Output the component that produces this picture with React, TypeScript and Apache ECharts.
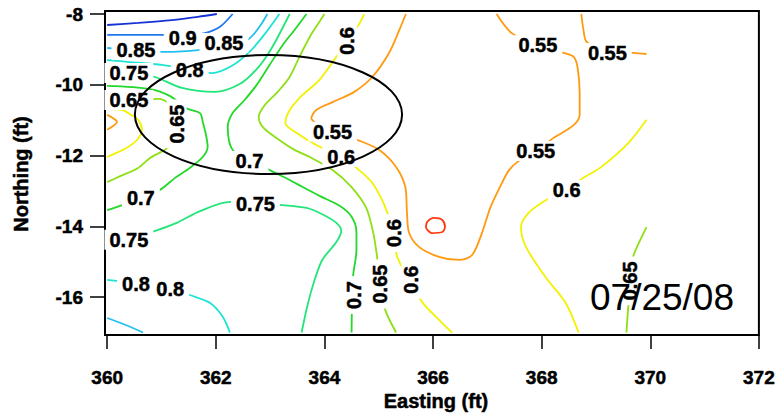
import React, { useEffect, useRef } from "react";
import * as echarts from "echarts";

type Pt = [number, number];

const FONT = "'Liberation Sans', Arial, Helvetica, sans-serif";

// Axis ticks
const xTicks = [360, 362, 364, 366, 368, 370, 372];
const yTicks = [-16, -14, -12, -10, -8];

// Contour levels and their colours
const levels = ["0.95", "0.9", "0.85", "0.8", "0.75", "0.7", "0.65", "0.6", "0.55", "0.5"];
const levelColors = [
  "#1432d8", "#1f78f0", "#22c0f2", "#1ee4d4", "#22e67a",
  "#22d82a", "#8ee015", "#f2f200", "#ff9a10", "#ff3a10",
];

// Contour polylines (Easting, Northing)
const c095: Pt[][] = [
  [[360.0, -8.31], [360.57, -8.25], [361.19, -8.17], [361.67, -8.08], [362.02, -8.0]],
];
const c090: Pt[][] = [
  [[360.0, -8.59], [361.01, -8.59], [361.39, -8.62], [361.8, -8.54], [362.07, -8.37], [362.31, -8.0]],
];
const c085: Pt[][] = [
  [[360.0, -8.96], [360.53, -9.02], [361.01, -9.07], [361.67, -9.02], [362.15, -8.85], [362.55, -8.76], [362.7, -8.57], [362.84, -8.28], [362.95, -8.0]],
  [[360.0, -16.59], [360.33, -16.78], [360.66, -17.0]],
];
const c080: Pt[][] = [
  [[360.0, -9.3], [360.42, -9.36], [361.01, -9.44], [361.52, -9.58], [361.93, -9.67], [362.29, -9.47], [362.62, -9.07], [362.9, -8.57], [363.17, -8.0]],
  [[360.0, -15.51], [360.53, -15.6], [361.16, -15.74], [361.52, -15.94], [361.89, -16.16], [362.13, -16.56], [362.26, -17.0]],
];
const c075: Pt[][] = [
  [[360.0, -9.64], [360.4, -9.67], [360.88, -9.78], [361.38, -10.09], [361.98, -10.2], [362.44, -9.98], [362.77, -9.53], [363.03, -8.96], [363.36, -8.0]],
  [[360.0, -14.38], [360.4, -14.38], [360.88, -14.13], [361.28, -13.9], [361.71, -13.57], [362.26, -13.31], [362.73, -13.34], [363.23, -13.4], [363.67, -13.48], [363.95, -13.65], [364.22, -13.9], [364.31, -14.13], [364.22, -14.44], [363.96, -14.95], [363.82, -15.51], [363.69, -16.22], [363.58, -17.0]],
];
const c070: Pt[][] = [
  [[360.0, -10.03], [360.79, -10.12], [361.16, -10.32], [361.45, -10.66], [361.71, -10.8], [361.76, -11.05], [361.82, -11.42], [361.85, -11.76], [361.76, -12.04], [361.52, -12.35], [361.25, -12.63], [360.97, -12.97], [360.62, -13.2], [360.24, -13.42], [360.0, -13.54]],
  [[363.67, -8.0], [363.45, -8.45], [363.23, -8.88], [362.99, -9.44], [362.75, -10.01], [362.53, -10.43], [362.31, -10.8], [362.22, -11.19], [362.24, -11.56], [362.29, -11.79], [362.4, -11.98], [362.62, -12.15], [362.84, -12.29], [363.03, -12.44], [363.36, -12.69], [363.6, -12.89], [363.91, -13.14], [364.28, -13.42], [364.5, -13.73], [364.59, -14.16], [364.59, -14.67], [364.53, -15.37], [364.51, -16.08], [364.5, -17.0]],
];
const c065: Pt[][] = [
  [[360.0, -10.46], [360.61, -10.43], [360.94, -10.4], [361.16, -10.54], [361.28, -10.77], [361.3, -11.22], [361.25, -11.62], [361.06, -11.84], [360.79, -12.07], [360.57, -12.35], [360.24, -12.58], [360.0, -12.75]],
  [[364.0, -8.0], [363.87, -8.31], [363.73, -8.65], [363.54, -9.21], [363.36, -9.78], [363.14, -10.2], [362.9, -10.58], [362.79, -10.91], [362.88, -11.22], [363.17, -11.56], [363.45, -11.84], [363.73, -12.04], [364.15, -12.41], [364.5, -12.89], [364.77, -13.48], [364.9, -14.19], [364.97, -14.86], [365.03, -15.63], [365.12, -16.36], [365.32, -17.0]],
  [[369.93, -14.02], [369.73, -14.67], [369.65, -15.03], [369.63, -15.6], [369.6, -16.16], [369.56, -17.0]],
];
const c060: Pt[][] = [
  [[360.0, -10.69], [360.27, -10.71], [360.42, -10.83], [360.57, -10.99], [360.64, -11.28], [360.55, -11.56], [360.33, -11.81], [360.09, -11.98], [360.0, -12.04]],
  [[364.73, -8.0], [364.64, -8.28], [364.46, -8.68], [364.22, -9.21], [363.91, -9.86], [363.54, -10.37], [363.34, -10.77], [363.28, -11.08], [363.49, -11.36], [363.85, -11.7], [364.31, -12.04], [364.64, -12.41], [364.88, -12.77], [365.06, -13.25], [365.16, -13.62], [365.27, -14.19], [365.34, -14.86], [365.56, -15.51], [365.8, -16.14], [366.11, -16.64], [366.35, -17.0]],
  [[369.93, -10.99], [369.6, -11.64], [369.1, -12.32], [368.77, -12.63], [368.46, -12.97], [368.09, -13.25], [367.76, -13.62], [367.62, -14.02], [367.71, -14.58], [368.07, -15.43], [368.44, -16.16], [368.68, -17.0]],
];
const c055: Pt[][] = [
  [[360.0, -10.85], [360.18, -11.05], [360.0, -11.27]],
  [[365.5, -8.0], [365.38, -8.45], [365.19, -9.1], [364.88, -9.78], [364.55, -10.2], [364.15, -10.49], [363.85, -10.71], [363.76, -10.94], [364.15, -11.31], [364.61, -11.56], [365.01, -11.84], [365.32, -12.32], [365.49, -12.89], [365.52, -13.62], [365.56, -14.19], [365.74, -14.58], [366.11, -14.86], [366.48, -14.95], [366.72, -14.81], [366.9, -14.19], [367.06, -13.45], [367.27, -12.77], [367.4, -12.41], [367.58, -12.15], [367.89, -11.87], [368.22, -11.5], [368.59, -11.14], [368.7, -10.85], [368.7, -10.23], [368.66, -9.5], [368.59, -9.21], [368.4, -9.1], [367.93, -8.88], [367.45, -8.54], [367.17, -8.0]],
  [[368.73, -8.0], [368.77, -8.45], [368.83, -8.79], [369.21, -9.07], [369.69, -9.1], [369.93, -9.13]],
];
const c050: Pt[][] = [
  [[365.87, -14.05], [365.89, -13.88], [366.02, -13.76], [366.17, -13.82], [366.22, -14.02], [366.17, -14.16], [365.98, -14.19], [365.87, -14.05]],
];
const contourLines = [c095, c090, c085, c080, c075, c070, c065, c060, c055, c050];

// Contour labels: Easting, Northing, text, rotation (deg)
const contourLabels: [number, number, string, number][] = [
  [361.39, -8.68, "0.9", 0],
  [360.53, -9.02, "0.85", 0],
  [362.15, -8.82, "0.85", 0],
  [361.52, -9.58, "0.8", 0],
  [360.4, -9.67, "0.75", 0],
  [360.4, -10.43, "0.65", 0],
  [361.28, -11.11, "0.65", 90],
  [362.62, -12.15, "0.7", 0],
  [360.62, -13.2, "0.7", 0],
  [360.4, -14.38, "0.75", 0],
  [362.73, -13.37, "0.75", 0],
  [360.53, -15.63, "0.8", 0],
  [361.16, -15.77, "0.8", 0],
  [364.42, -8.76, "0.6", 90],
  [364.15, -11.33, "0.55", 0],
  [364.31, -12.04, "0.6", 0],
  [367.93, -8.88, "0.55", 0],
  [369.21, -9.1, "0.55", 0],
  [367.89, -11.87, "0.55", 0],
  [368.46, -12.97, "0.6", 0],
  [365.28, -14.19, "0.6", 90],
  [365.6, -15.51, "0.6", 90],
  [365.03, -15.63, "0.65", 90],
  [364.55, -15.94, "0.7", 90],
  [369.63, -15.54, "0.65", 90],
];

// Ellipse: centre Easting, centre Northing, radius E, radius N (ft)
const ellipseData = [[362.97, -10.84, 2.46, 1.68]];
const dateText = "07/25/08";
const xTitle = "Easting (ft)";
const yTitle = "Northing (ft)";

export default function App() {
  const ref = useRef<HTMLDivElement>(null);
  useEffect(() => {
    if (!ref.current) return;
    const chart = echarts.init(ref.current, null, { renderer: "svg" });
    const series: any[] = [];
    contourLines.forEach((lines, i) => {
      lines.forEach((pts) => {
        series.push({
          type: "line",
          name: levels[i],
          data: pts,
          symbol: "none",
          showSymbol: false,
          smooth: 0.3,
          silent: true,
          z: 2,
          lineStyle: { color: levelColors[i], width: 1.8 },
        });
      });
    });
    series.push({
      type: "scatter",
      silent: true,
      z: 5,
      symbolSize: 1,
      itemStyle: { color: "#fff", opacity: 1 },
      data: contourLabels.map((l) => ({
        value: [l[0], l[1]],
        name: l[2],
        label: { rotate: l[3] },
      })),
      label: {
        show: true,
        position: "inside",
        formatter: (p: any) => p.name,
        color: "#000",
        opacity: 1,
        fontSize: 20,
        fontWeight: "bold",
        fontFamily: FONT,
        textBorderColor: "#000",
        textBorderWidth: 0.5,
        backgroundColor: "#fff",
        padding: [0, 5],
      },
    });
    series.push({
      type: "custom",
      silent: true,
      z: 10,
      clip: false,
      data: ellipseData,
      renderItem: (_p: any, api: any) => {
        const c = api.coord([api.value(0), api.value(1)]);
        const s = api.size([api.value(2), api.value(3)]);
        return {
          type: "ellipse",
          shape: { cx: c[0], cy: c[1], rx: s[0], ry: s[1] },
          style: { fill: "none", stroke: "#000", lineWidth: 2 },
        };
      },
    });
    const axisLabelStyle = {
      color: "#000", fontSize: 19, fontWeight: "bold", fontFamily: FONT,
      textBorderColor: "#000", textBorderWidth: 0.5,
    };
    chart.setOption({
      animation: false,
      textStyle: { fontFamily: FONT },
      grid: {
        left: 105, top: 11, width: 655, height: 324,
        show: true, borderColor: "#000", borderWidth: 2, backgroundColor: "transparent",
      },
      xAxis: {
        type: "value", min: 359.96, max: 372,
        axisLine: { show: false }, splitLine: { show: false },
        axisTick: { show: true, length: 14, lineStyle: { color: "#000", width: 1.5 }, customValues: xTicks },
        axisLabel: { ...axisLabelStyle, margin: 33, customValues: xTicks },
      },
      yAxis: {
        type: "value", min: -17.07, max: -7.915,
        axisLine: { show: false }, splitLine: { show: false },
        axisTick: { show: true, length: 15, lineStyle: { color: "#000", width: 1.5 }, customValues: yTicks },
        axisLabel: { ...axisLabelStyle, margin: 22, customValues: yTicks },
      },
      graphic: [
        {
          type: "text", x: 590, y: 297, z: 20, silent: true,
          style: { text: dateText, font: `37px ${FONT}`, fill: "#000", align: "left", textAlign: "left", verticalAlign: "middle", textVerticalAlign: "middle" },
        },
        {
          type: "text", x: 436, y: 401, z: 20, silent: true,
          style: { text: xTitle, font: `bold 20px ${FONT}`, fill: "#000", stroke: "#000", lineWidth: 0.5, align: "center", textAlign: "center", verticalAlign: "middle", textVerticalAlign: "middle" },
        },
        {
          type: "text", x: 21, y: 174, rotation: Math.PI / 2, z: 20, silent: true,
          style: { text: yTitle, font: `bold 20px ${FONT}`, fill: "#000", stroke: "#000", lineWidth: 0.5, align: "center", textAlign: "center", verticalAlign: "middle", textVerticalAlign: "middle" },
        },
      ],
      series,
    });
    return () => chart.dispose();
  }, []);
  return (
    <div
      ref={ref}
      style={{ position: "fixed", left: 0, top: 0, width: 778, height: 416, background: "#fff" }}
    />
  );
}
